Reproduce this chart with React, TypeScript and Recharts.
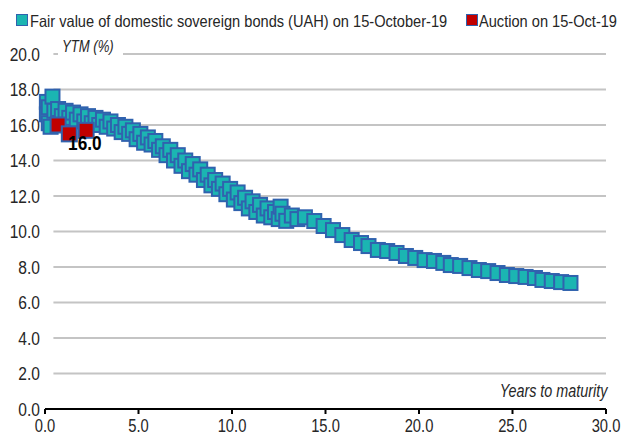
import React from "react";
import { ScatterChart, Scatter, XAxis, YAxis, ReferenceLine } from "recharts";

// Fair value curve: years to maturity / YTM (%)
const fairX = [
  0.1, 0.1, 0.2, 0.2, 0.3, 0.4, 0.5, 0.7, 0.9, 1.1, 1.3, 1.5, 1.7, 1.9, 2.1, 2.3, 2.5, 2.7, 2.9, 3.1,
  3.3, 3.5, 3.7, 3.9, 4.1, 4.3, 4.5, 4.7, 4.9, 5.1, 5.3, 5.5, 5.7, 5.9, 6.1, 6.3, 6.5, 6.7, 6.9, 7.1,
  7.3, 7.5, 7.7, 7.9, 8.1, 8.3, 8.5, 8.7, 8.9, 9.1, 9.3, 9.5, 9.7, 9.9, 10.1, 10.3, 10.5, 10.7, 10.9, 11.1,
  11.3, 11.5, 11.7, 11.9, 12.1, 12.3, 12.5, 12.6, 12.7, 12.9, 13.2, 13.5, 13.9,
  14.4, 14.9, 15.4, 15.9, 16.4, 16.9, 17.3, 17.8, 18.3, 18.8, 19.3, 19.8, 20.3, 20.8, 21.3, 21.7,
  22.2, 22.7, 23.2, 23.7, 24.2, 24.7, 25.2, 25.7, 26.2, 26.6, 27.1, 27.6, 28.1,
];
const fairY = [
  17.3, 16.6, 16.1, 17.0, 15.9, 17.6, 16.8, 16.9, 16.5, 16.8, 16.4, 16.7, 16.3, 16.6, 16.2, 16.5, 16.1, 16.4, 16.0, 16.3,
  15.9, 16.2, 15.8, 16.0, 15.6, 15.9, 15.5, 15.7, 15.2, 15.5, 15.0, 15.3, 14.9, 15.1, 14.6, 14.8, 14.3, 14.6, 14.0, 14.3,
  13.7, 14.0, 13.4, 13.8, 13.2, 13.5, 12.9, 13.2, 12.6, 12.9, 12.4, 12.7, 12.1, 12.4, 11.8, 12.2, 11.6, 11.9, 11.3, 11.7,
  11.1, 11.5, 10.9, 11.3, 10.8, 11.1, 10.7, 11.4, 11.0, 10.6, 10.9, 10.7, 10.8,
  10.59, 10.31, 10.08, 9.8, 9.52, 9.35, 9.18, 8.96, 8.9, 8.79, 8.62, 8.51, 8.39, 8.34, 8.23, 8.11,
  8.06, 7.94, 7.83, 7.77, 7.66, 7.55, 7.49, 7.44, 7.38, 7.27, 7.21, 7.15, 7.1,
];
// Auction results
const auctionX = [0.7, 1.3, 2.2];
const auctionY = [16.0, 15.5, 15.7];
const labelIndex = 0;

const xTicks = [0, 5, 10, 15, 20, 25, 30];
const yTicks = [0, 2, 4, 6, 8, 10, 12, 14, 16, 18, 20];
const gridValues = [2, 4, 6, 8, 10, 12, 14, 16, 18, 20];

const legendItems = [
  "Fair value of domestic sovereign bonds (UAH) on 15-October-19",
  "Auction on 15-Oct-19",
];
const yTitle = "YTM (%)";
const xTitle = "Years to maturity";

const fairData = fairX.map((x, i) => ({ x, y: fairY[i] }));
const auctionData = auctionX.map((x, i) => ({ x, y: auctionY[i] }));
const labelData = [auctionData[labelIndex]];

const TEAL = "#1BB5B2";
const BLUE = "#3062AE";
const RED = "#C00000";
const FONT = "'Liberation Sans', Arial, sans-serif";
const NARROW = 0.82;
const TXT = "#262626";

const square = (fill: string, side: number) => (p: any) =>
  p.cx == null ? <g /> : (
    <rect x={p.cx - side / 2} y={p.cy - side / 2} width={side} height={side} fill={fill} stroke={BLUE} strokeWidth={2} />
  );

const labelShape = (p: any) =>
  p.cx == null ? <g /> : (
    <text
      transform={`translate(${p.cx + 10},${p.cy + 25}) scale(${NARROW},1)`}
      fontFamily={FONT}
      fontWeight="bold"
      fontSize={21}
      fill="#000"
    >
      {p.payload.y.toFixed(1)}
    </text>
  );

const XTick = (p: any) => (
  <text
    transform={`translate(${p.x},${p.y}) scale(${NARROW},1)`}
    textAnchor="middle"
    dy="0.72em"
    fontFamily={FONT}
    fontSize={18}
    fill={TXT}
  >
    {p.payload.value.toFixed(1)}
  </text>
);

const YTick = (p: any) => (
  <text
    transform={`translate(${p.x},${p.y}) scale(${NARROW},1)`}
    textAnchor="end"
    dy="0.36em"
    fontFamily={FONT}
    fontSize={19}
    fill={TXT}
  >
    {p.payload.value.toFixed(1)}
  </text>
);

const scaledText = (scale: number, origin: string): React.CSSProperties => ({
  display: "inline-block",
  transform: `scaleX(${scale})`,
  transformOrigin: origin,
  whiteSpace: "nowrap",
});

export default function App() {
  return (
    <div style={{ position: "absolute", left: 0, top: 0, width: 625, height: 434, background: "#fff", fontFamily: FONT, overflow: "hidden" }}>
      <ScatterChart width={625} height={434} margin={{ top: 54, right: 19, bottom: 0, left: 0 }}>
        <XAxis
          type="number"
          dataKey="x"
          domain={[0, 30]}
          ticks={xTicks}
          axisLine={{ stroke: "#000", strokeWidth: 2 }}
          tickLine={{ stroke: "#000", strokeWidth: 2 }}
          tickSize={5}
          tickMargin={5}
          height={25}
          tick={<XTick />}
          interval={0}
        />
        <YAxis
          type="number"
          dataKey="y"
          domain={[0, 20]}
          ticks={yTicks}
          axisLine={false}
          tickLine={false}
          tickSize={0}
          tickMargin={5}
          width={45}
          tick={<YTick />}
          interval={0}
        />
        {gridValues.map((v) => (
          <ReferenceLine
            key={v}
            segment={[{ x: 0.45, y: v }, { x: 30, y: v }]}
            stroke="#C4C4C4"
            strokeWidth={2}
          />
        ))}
        <Scatter data={fairData} shape={square(TEAL, 14)} isAnimationActive={false} />
        <Scatter data={auctionData} shape={square(RED, 15)} isAnimationActive={false} />
        <Scatter data={labelData} shape={labelShape} isAnimationActive={false} />
      </ScatterChart>

      {/* Legend */}
      <div style={{ position: "absolute", left: 16, top: 14, width: 10, height: 10, background: TEAL, border: `1.5px solid ${BLUE}` }} />
      <div style={{ position: "absolute", left: 30, top: 11, width: 480, fontSize: 16.5, lineHeight: "20px", color: TXT, ...scaledText(0.885, "left") }}>
        {legendItems[0]}
      </div>
      <div style={{ position: "absolute", left: 466, top: 14, width: 10, height: 10, background: RED, border: `1.5px solid ${BLUE}` }} />
      <div style={{ position: "absolute", left: 479, top: 11, width: 180, fontSize: 16.5, lineHeight: "20px", color: TXT, ...scaledText(0.885, "left") }}>
        {legendItems[1]}
      </div>

      {/* Axis titles */}
      <div style={{ position: "absolute", left: 58, top: 35, width: 65, height: 24, background: "#fff" }}>
        <span style={{ position: "absolute", left: 4, top: 2, fontStyle: "italic", fontSize: 16, color: TXT, lineHeight: "20px", ...scaledText(NARROW, "left") }}>
          {yTitle}
        </span>
      </div>
      <div style={{ position: "absolute", right: 18, top: 381, fontStyle: "italic", fontSize: 17.5, color: TXT, lineHeight: "20px", ...scaledText(NARROW, "right") }}>
        {xTitle}
      </div>
    </div>
  );
}
